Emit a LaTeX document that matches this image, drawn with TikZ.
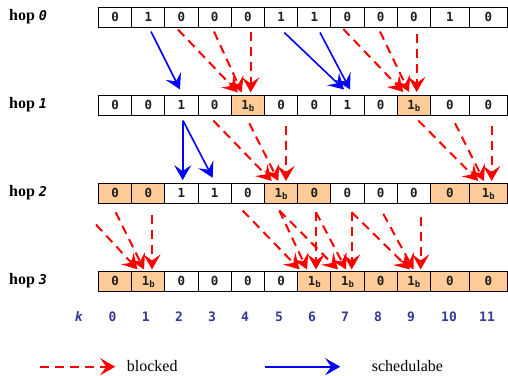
\documentclass[tikz,border=0pt]{standalone}
\usepackage{fontspec}
\setmainfont{Liberation Serif}
\newfontfamily\cellfont{DejaVu Sans Mono}
\usetikzlibrary{arrows.meta,calc}
\definecolor{peach}{RGB}{255,204,153}
\definecolor{kblue}{RGB}{55,55,150}
\definecolor{digit}{RGB}{30,30,30}
\newcommand{\oneb}{1\raisebox{-1.5pt}{\fontsize{9}{10}\selectfont b}}
\newcommand{\hopnum}[1]{{\cellfont\bfseries\itshape\fontsize{13.5}{15}\selectfont #1}}
\begin{document}
\begin{tikzpicture}[x=1pt,y=-1pt,
  cell/.style={draw=black,line width=1.1pt,minimum height=20pt,inner sep=0pt,
    text height=8.75pt,text depth=0pt,text=digit,
    font=\cellfont\bfseries\fontsize{12.5}{14}\selectfont},
  hoplab/.style={anchor=base west,inner sep=0pt,font=\bfseries\fontsize{16}{19}\selectfont},
  klab/.style={inner sep=0pt,text=kblue,font=\cellfont\bfseries\fontsize{13}{15}\selectfont},
  legtext/.style={anchor=base west,inner sep=0pt,font=\fontsize{16}{19}\selectfont},
  blk/.style={draw=red,line width=2pt,dash pattern=on 9pt off 6pt,
    -{Stealth[length=15pt,width=17pt,inset=6pt]}},
  sch/.style={draw=blue,line width=1.6pt,
    -{Stealth[length=15pt,width=17pt,inset=6pt]}}]
\useasboundingbox (0,0) rectangle (508,375);

% rows of cells
\foreach \v/\f [count=\i from 0] in {0/white,1/white,0/white,0/white,0/white,1/white,1/white,0/white,0/white,0/white,1/white,0/white}{
  \pgfmathsetmacro\cx{\i<10 ? 115.1+33.2*\i : (\i==10 ? 449.9 : 488.4)}
  \pgfmathsetmacro\cw{\i<10 ? 33.2 : (\i==10 ? 38.8 : 38.2)}
  \node[cell,fill=\f,minimum width=\cw pt] (c0-\i) at (\cx,17.5) {\v};
}
\foreach \v/\f [count=\i from 0] in {0/white,0/white,1/white,0/white,\oneb/peach,0/white,0/white,1/white,0/white,\oneb/peach,0/white,0/white}{
  \pgfmathsetmacro\cx{\i<10 ? 115.1+33.2*\i : (\i==10 ? 449.9 : 488.4)}
  \pgfmathsetmacro\cw{\i<10 ? 33.2 : (\i==10 ? 38.8 : 38.2)}
  \node[cell,fill=\f,minimum width=\cw pt] (c1-\i) at (\cx,105.5) {\v};
}
\foreach \v/\f [count=\i from 0] in {0/peach,0/peach,1/white,1/white,0/white,\oneb/peach,0/peach,0/white,0/white,0/white,0/peach,\oneb/peach}{
  \pgfmathsetmacro\cx{\i<10 ? 115.1+33.2*\i : (\i==10 ? 449.9 : 488.4)}
  \pgfmathsetmacro\cw{\i<10 ? 33.2 : (\i==10 ? 38.8 : 38.2)}
  \node[cell,fill=\f,minimum width=\cw pt] (c2-\i) at (\cx,193.5) {\v};
}
\foreach \v/\f [count=\i from 0] in {0/peach,\oneb/peach,0/white,0/white,0/white,0/white,\oneb/peach,\oneb/peach,0/peach,\oneb/peach,0/peach,0/peach}{
  \pgfmathsetmacro\cx{\i<10 ? 115.1+33.2*\i : (\i==10 ? 449.9 : 488.4)}
  \pgfmathsetmacro\cw{\i<10 ? 33.2 : (\i==10 ? 38.8 : 38.2)}
  \node[cell,fill=\f,minimum width=\cw pt] (c3-\i) at (\cx,281.5) {\v};
}

% hop labels
\node[hoplab] (h0) at (9,20.7) {hop \hopnum{0}};
\node[hoplab] (h1) at (9,108.7) {hop \hopnum{1}};
\node[hoplab] (h2) at (9,196.7) {hop \hopnum{2}};
\node[hoplab] (h3) at (9,284.7) {hop \hopnum{3}};

% hop 0 -> hop 1
\draw[sch] ($(c0-1.south)+(2.7,3.5)$) -- ($(c1-2.north)+(-1.5,-5.5)$);
\draw[blk] ($(c0-2.south)+(-3.5,1.5)$) -- ($(c1-4.north)+(-10,-2.5)$);
\draw[blk] ($(c0-3.south)+(-0.7,3.5)$) -- ($(c1-4.north)+(-6,-2.5)$);
\draw[blk] ($(c0-4.south)+(2.8,3.5)$) -- ($(c1-4.north)+(2.8,-2.5)$);
\draw[sch] ($(c0-5.south)+(3.2,4.5)$) -- ($(c1-7.north)+(-3.5,-5.5)$);
\draw[sch] ($(c0-6.south)+(5.7,4.5)$) -- ($(c1-7.north)+(2.5,-5.5)$);
\draw[blk] ($(c0-7.south)+(-4.2,1)$) -- ($(c1-9.north)+(-10.6,-3)$);
\draw[blk] ($(c0-8.south)+(-0.7,3.5)$) -- ($(c1-9.north)+(-4.9,-3)$);
\draw[blk] ($(c0-9.south)+(2.8,5.5)$) -- ($(c1-9.north)+(2.8,-3)$);

% hop 1 -> hop 2
\draw[sch] ($(c1-2.south)+(1.2,4.5)$) -- ($(c2-2.north)+(1.2,-2.8)$);
\draw[sch] ($(c1-2.south)+(1.5,4.5)$) -- ($(c2-3.north)+(-2,-5.2)$);
\draw[blk] ($(c1-3.south)+(-1.4,4.5)$) -- ($(c2-5.north)+(-9.4,-2)$);
\draw[blk] ($(c1-4.south)+(1.4,7.2)$) -- ($(c2-5.north)+(-2.8,-2)$);
\draw[blk] ($(c1-5.south)+(4.9,9.5)$) -- ($(c2-5.north)+(4.9,-2)$);
\draw[blk] ($(c1-9.south)+(4.4,4.5)$) -- ($(c2-11.north)+(-10.1,-2)$);
\draw[blk] ($(c1-10.south)+(5.1,7.2)$) -- ($(c2-11.north)+(-4.4,-2)$);
\draw[blk] ($(c1-11.south)+(3.3,9.5)$) -- ($(c2-11.north)+(3.3,-2)$);

% hop 2 -> hop 3
\draw[blk] ($(c2-0.south)+(-19.1,20.5)$) -- ($(c3-1.north)+(-10.8,-1.5)$);
\draw[blk] ($(c2-0.south)+(0.6,8.2)$) -- ($(c3-1.north)+(-4.3,-1.5)$);
\draw[blk] ($(c2-1.south)+(3.7,10.5)$) -- ($(c3-1.north)+(3.7,-1.5)$);
\draw[blk] ($(c2-4.south)+(-5.2,6.5)$) -- ($(c3-6.north)+(-14.7,-1.5)$);
\draw[blk] ($(c2-5.south)+(-1.8,6.5)$) -- ($(c3-6.north)+(-7.3,-1.5)$);
\draw[blk] ($(c2-6.south)+(1.7,8.2)$) -- ($(c3-6.north)+(1.7,-1.5)$);
\draw[blk] ($(c2-5.south)+(-1.8,6.5)$) -- ($(c3-7.north)+(-9.5,-1.5)$);
\draw[blk] ($(c2-6.south)+(1.7,8.2)$) -- ($(c3-7.north)+(-1.5,-1.5)$);
\draw[blk] ($(c2-7.south)+(4.2,8.2)$) -- ($(c3-7.north)+(4.2,-1.5)$);
\draw[blk] ($(c2-7.south)+(4.2,8.2)$) -- ($(c3-9.north)+(-3.9,-1.5)$);
\draw[blk] ($(c2-8.south)+(2.6,9.8)$) -- ($(c3-9.north)+(-0.4,-1.5)$);
\draw[blk] ($(c2-9.south)+(6.8,12.5)$) -- ($(c3-9.north)+(6.8,-1.5)$);

% k row
\node[klab] (kk) at (78.7,317) {\itshape k};
\node[klab] (k0) at (112.5,317) {0};
\node[klab] (k1) at (145.7,317) {1};
\node[klab] (k2) at (179,317) {2};
\node[klab] (k3) at (212,317) {3};
\node[klab] (k4) at (245,317) {4};
\node[klab] (k5) at (279,317) {5};
\node[klab] (k6) at (312,317) {6};
\node[klab] (k7) at (345,317) {7};
\node[klab] (k8) at (378,317) {8};
\node[klab] (k9) at (411,317) {9};
\node[klab] (k10) at (449,317) {10};
\node[klab] (k11) at (487,317) {11};

% legend
\coordinate (lb) at (40,366.7);
\node[legtext] (lbt) at (126.7,371.5) {blocked};
\draw[blk] (lb) -- ($(lbt.base west)+(-11.5,-4.8)$);
\coordinate (ls) at (265,366.7);
\node[legtext] (lst) at (371.7,371.5) {schedulabe};
\draw[sch] (ls) -- ($(lst.base west)+(-31.5,-4.8)$);
\end{tikzpicture}
\end{document}
